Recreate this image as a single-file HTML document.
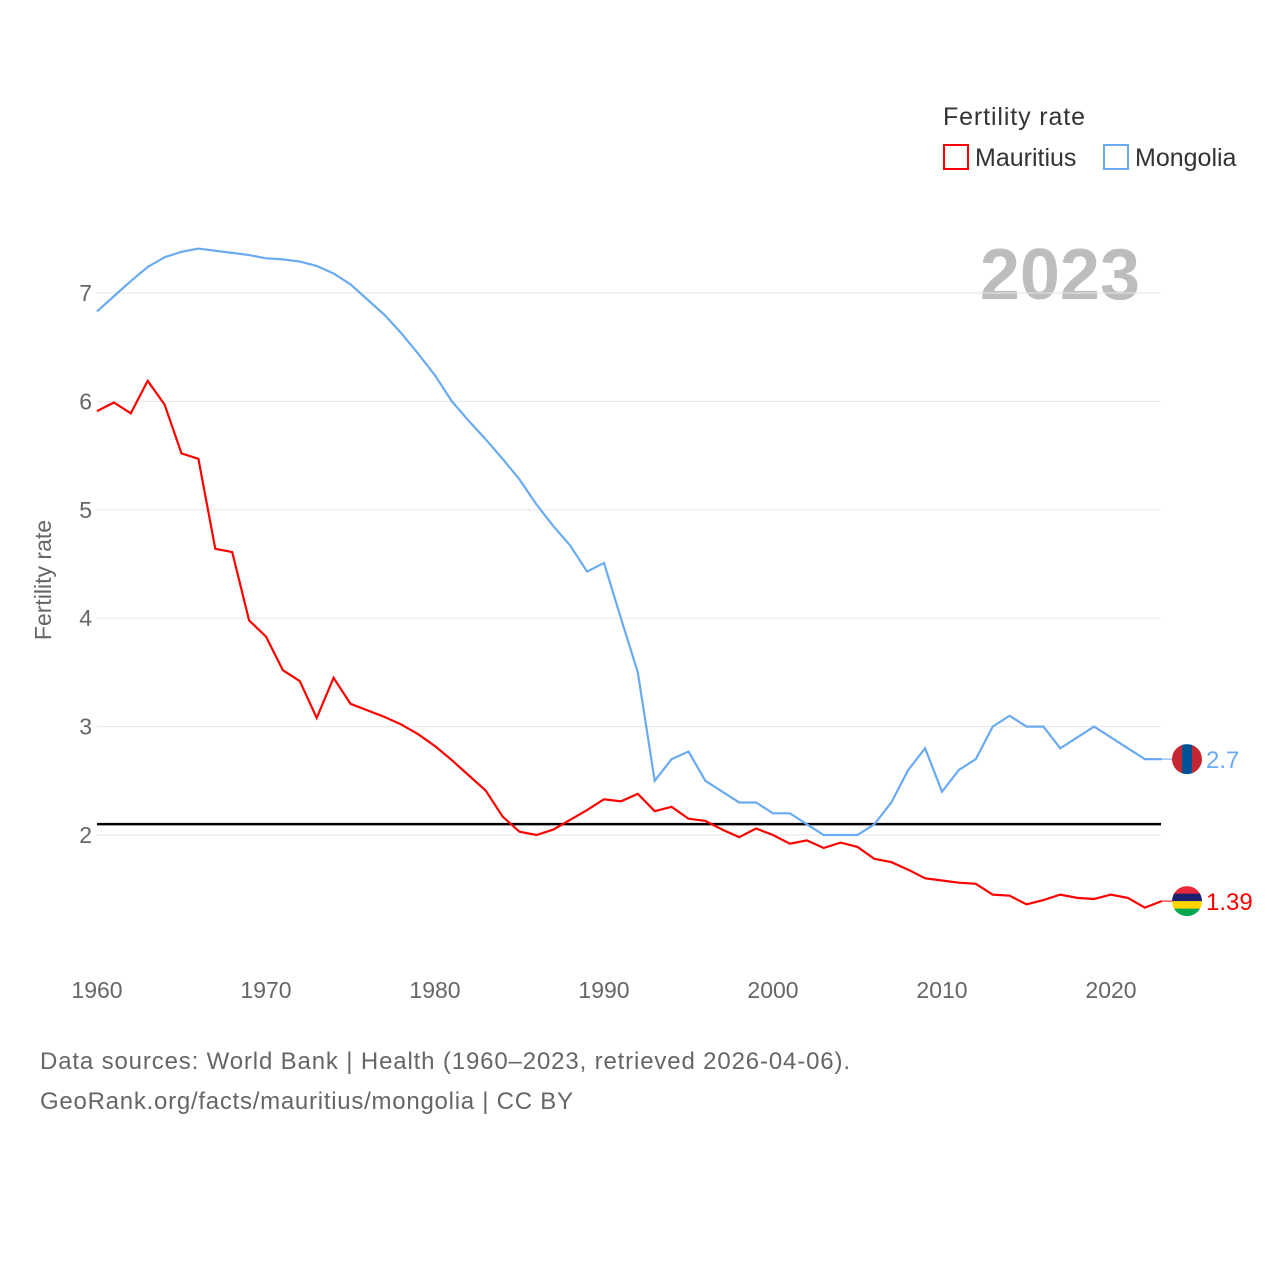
<!DOCTYPE html>
<html><head><meta charset="utf-8"><style>
body{margin:0;background:#fff;font-family:"Liberation Sans",sans-serif}
svg text{font-family:"Liberation Sans",sans-serif}
</style></head><body>
<svg id="chart" width="1280" height="1280" viewBox="0 0 1280 1280" xmlns="http://www.w3.org/2000/svg">
<text x="943" y="125" font-size="25" fill="#333" textLength="142">Fertility rate</text>
<rect x="944" y="145" width="24" height="24" fill="none" stroke="#f00" stroke-width="2"/>
<text x="975" y="166" font-size="25" fill="#333">Mauritius</text>
<rect x="1104" y="145" width="24" height="24" fill="none" stroke="#6aaaf0" stroke-width="2"/>
<text x="1135" y="166" font-size="25" fill="#333">Mongolia</text>
<text x="1140" y="299" font-size="72" font-weight="bold" fill="#bdbdbd" text-anchor="end">2023</text>
<text transform="translate(51,580) rotate(-90)" font-size="23" fill="#666" text-anchor="middle">Fertility rate</text>
<g id="grid"></g><g id="marks"></g>
<text x="40" y="1069" font-size="24" fill="#666" textLength="810">Data sources: World Bank | Health (1960–2023, retrieved 2026-04-06).</text>
<text x="40" y="1109" font-size="24" fill="#666" textLength="533">GeoRank.org/facts/mauritius/mongolia | CC BY</text>
</svg>
<script>
const years=[];for(let y=1960;y<=2023;y++)years.push(y);
const mauritius=[5.91,5.99,5.89,6.19,5.97,5.52,5.47,4.64,4.61,3.98,3.83,3.52,3.42,3.08,3.45,3.21,3.15,3.09,3.02,2.93,2.82,2.69,2.55,2.41,2.17,2.03,2.0,2.05,2.14,2.23,2.33,2.31,2.38,2.22,2.26,2.15,2.13,2.05,1.98,2.06,2.0,1.92,1.95,1.88,1.93,1.89,1.78,1.75,1.68,1.6,1.58,1.56,1.55,1.45,1.44,1.36,1.4,1.45,1.42,1.41,1.45,1.42,1.33,1.39];
const mongolia=[6.83,6.97,7.11,7.24,7.33,7.38,7.41,7.39,7.37,7.35,7.32,7.31,7.29,7.25,7.18,7.08,6.94,6.8,6.63,6.44,6.24,6.0,5.82,5.65,5.47,5.28,5.05,4.85,4.67,4.43,4.51,4.0,3.5,2.5,2.7,2.77,2.5,2.4,2.3,2.3,2.2,2.2,2.1,2.0,2.0,2.0,2.1,2.3,2.6,2.8,2.4,2.6,2.7,3.0,3.1,3.0,3.0,2.8,2.9,3.0,2.9,2.8,2.7,2.7];
const yTicks=[2,3,4,5,6,7];
const xTicks=[1960,1970,1980,1990,2000,2010,2020];
const replacement=2.1;
const X=y=>97+(y-1960)*(1014/60);
const Y=v=>835-(v-2)*108.4;
const NS="http://www.w3.org/2000/svg";
const grid=document.getElementById('grid'),marks=document.getElementById('marks');
function mk(tag,attrs,parent){const e=document.createElementNS(NS,tag);for(const k in attrs)e.setAttribute(k,attrs[k]);parent.appendChild(e);return e;}
yTicks.forEach(t=>{
 const l=mk('line',{x1:97,x2:1161,y1:Y(t),y2:Y(t),stroke:'#e6e6e6','stroke-width':1},grid);
 
 
 const tx=mk('text',{x:92,y:Y(t)+8,'font-size':23,fill:'#666','text-anchor':'end'},grid);
 tx.textContent=t;
 
 
});
xTicks.forEach(t=>{
 const tx=mk('text',{x:X(t),y:998,'font-size':23,fill:'#666','text-anchor':'middle'},grid);
 tx.textContent=t;
 
 
});
const ref=mk('line',{x1:97,x2:1161,y1:Y(replacement),y2:Y(replacement),stroke:'#000','stroke-width':2.5},marks);


function series(vals,color,name,label,flagColors){
 const p=mk('polyline',{points:vals.map((v,i)=>X(years[i])+','+Y(v)).join(' '),fill:'none',stroke:color,'stroke-width':2.2},marks);
 
 
 const last=vals[vals.length-1],lx=X(years[years.length-1]),ly=Y(last);
 const c=mk('line',{x1:lx,x2:1172,y1:ly,y2:ly,stroke:color,'stroke-width':1},marks);
 
 
 const g=mk('g',{},marks);
 
 
 const n=flagColors.length;
 flagColors.forEach((fc,i)=>{
  if(flagColors.vertical){mk('rect',{x:1172+i*30/n,y:ly-15,width:30/n+0.5,height:30,fill:fc},g);}
  else mk('rect',{x:1172,y:ly-15+i*30/n,width:30,height:30/n+0.5,fill:fc},g);
 });
 const cp=mk('clipPath',{id:'cp'+name},marks);mk('circle',{cx:1187,cy:ly,r:15},cp);
 g.setAttribute('clip-path','url(#cp'+name+')');
 const t=mk('text',{x:1206,y:ly+9,'font-size':24,fill:color},marks);
 t.textContent=label;
 
 
}
const mauFlag=['#ea2839','#1a206d','#ffd500','#00a551'];
mauFlag.vertical=false;
const monFlag=['#c4272f','#015197','#c4272f'];
monFlag.vertical=true;
series(mongolia,'#6aaaf0','mongolia','2.7',monFlag);
series(mauritius,'#f00','mauritius','1.39',mauFlag);
</script>
</body></html>
